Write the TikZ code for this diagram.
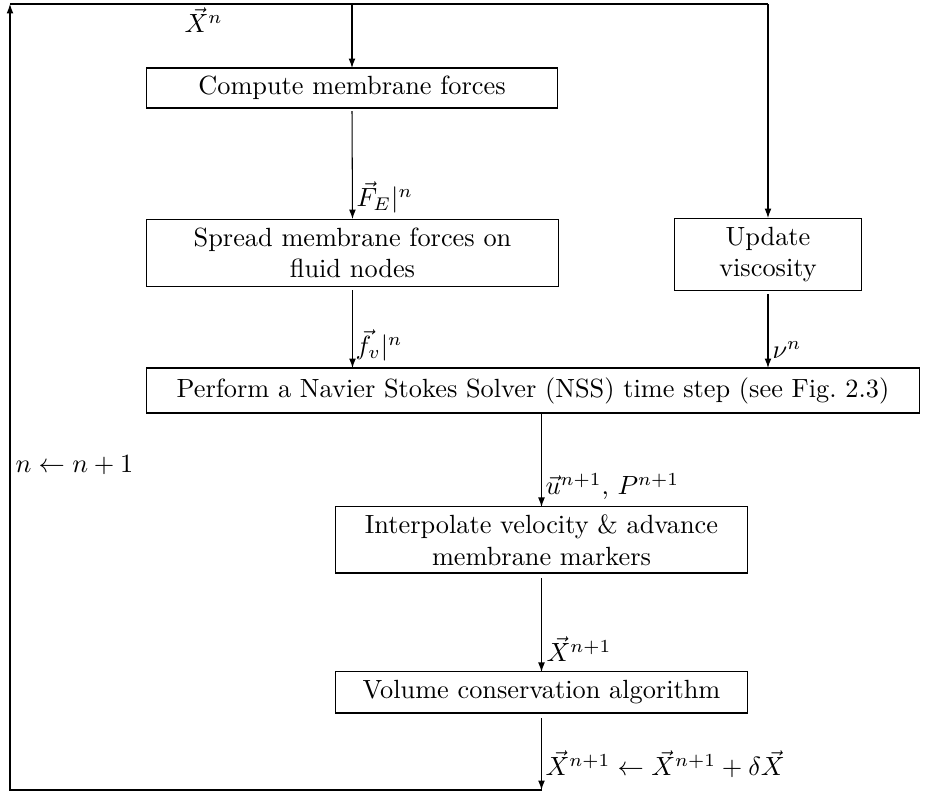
\documentclass[tikz,border=0pt]{standalone}
\usetikzlibrary{arrows.meta}
\begin{document}
\begin{tikzpicture}[x=0.38pt,y=-0.38pt,
  box/.style={draw, line width=0.4pt, align=center, inner sep=0pt, outer sep=0pt},
  arr/.style={-{Latex[length=3.6pt,width=2.6pt]}, line width=0.4pt},
  ln/.style={line width=0.4pt},
  lab/.style={inner sep=0pt, anchor=base west}]
\useasboundingbox (0,0) rectangle (929,796);
% boxes
\node[box, minimum width=156.2pt, minimum height=15.2pt] (compute) at (352,88) {Compute membrane forces};
\node[box, minimum width=156.9pt, minimum height=25.8pt] (spread) at (352.5,253) {Spread membrane forces on\\fluid nodes};
\node[box, minimum width=71.1pt, minimum height=27.7pt] (update) at (768,254.5) {Update\\viscosity};
\node[box, minimum width=294.1pt, minimum height=17.1pt] (nss) at (533,390.5) {Perform a Navier Stokes Solver (NSS) time step (see Fig.~2.3)};
\node[box, minimum width=156.9pt, minimum height=25.1pt] (interp) at (541.5,540) {Interpolate velocity \& advance\\membrane markers};
\node[box, minimum width=156.9pt, minimum height=15.6pt] (vol) at (541.5,692.5) {Volume conservation algorithm};
% loop coordinates
\coordinate (tl) at (10,4);
\coordinate (bl) at (10,790);
\coordinate (br) at (vol.south |- bl);
\coordinate (tr) at (update.north |- tl);
\coordinate (tc) at (compute.north |- tl);
% connectors
\draw[ln] (tl) -- (tr);
\draw[arr] (tr) -- (update.north);
\draw[arr] (tc) -- (compute.north);
\draw[arr, shorten <=1.2pt] (compute.south) -- (spread.north);
\draw[arr, shorten <=1.2pt] (spread.south) -- (spread.south |- nss.north);
\draw[arr, shorten <=1.2pt] (update.south) -- (update.south |- nss.north);
\draw[arr] (interp.north |- nss.south) -- (interp.north);
\draw[arr, shorten <=2pt] (interp.south) -- (vol.north);
\draw[arr, shorten <=2pt] (vol.south) -- (br);
\draw[arr] (br) -- (bl) -- (tl);
% labels
\node[lab] (lxn) at (184,33) {$\vec{X}^n$};
\node[lab] (lfe) at (356,207) {$\vec{F}_E|^n$};
\node[lab] (lfv) at (355,355) {$\vec{f}_v|^n$};
\node[lab] (lnu) at (772,359) {$\nu^n$};
\node[lab] (lup) at (545,495) {$\vec{u}^{n+1}$, $P^{n+1}$};
\node[lab] (lxn1) at (546,662) {$\vec{X}^{n+1}$};
\node[lab] (lupd) at (545,776) {$\vec{X}^{n+1} \leftarrow \vec{X}^{n+1} + \delta\vec{X}$};
\node[lab] (linc) at (15,473) {$n \leftarrow n+1$};
\end{tikzpicture}
\end{document}
